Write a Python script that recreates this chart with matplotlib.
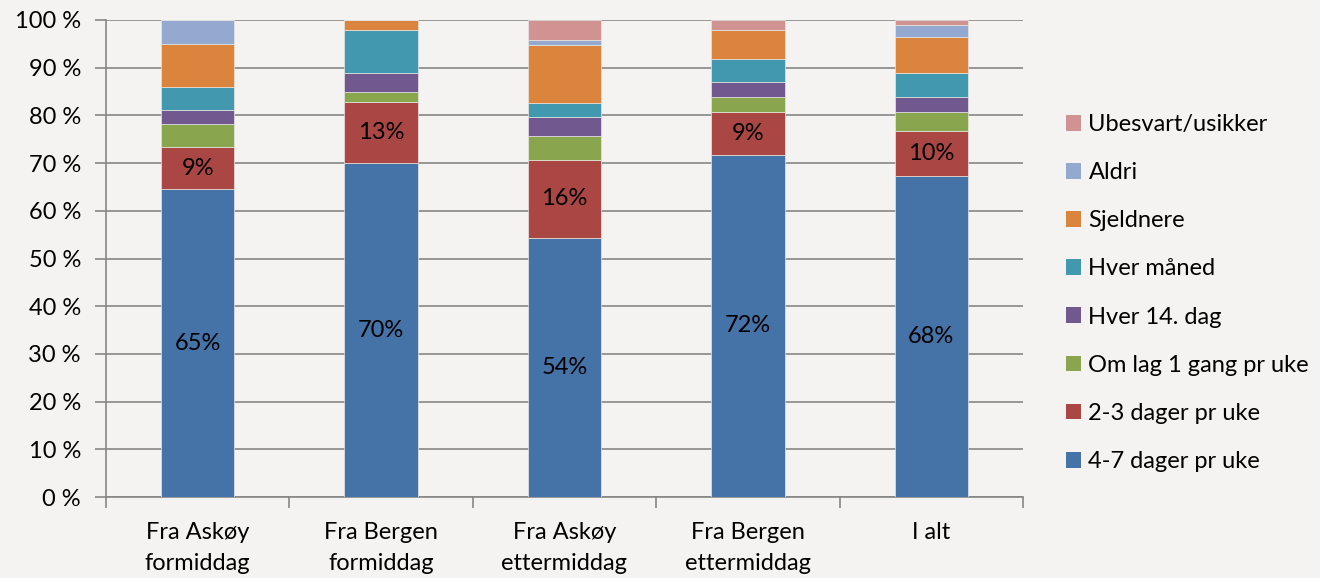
import numpy as np
import matplotlib.pyplot as plt
from matplotlib.patches import Patch

# Categories and series (percent of respondents)
categories = ['Fra Askøy\nformiddag', 'Fra Bergen\nformiddag', 'Fra Askøy\nettermiddag',
              'Fra Bergen\nettermiddag', 'I alt']
series_names = ['4-7 dager pr uke', '2-3 dager pr uke', 'Om lag 1 gang pr uke',
                'Hver 14. dag', 'Hver måned', 'Sjeldnere', 'Aldri', 'Ubesvart/usikker']

dager_4_7 = [64.5, 70.0, 54.4, 71.8, 67.2]
dager_2_3 = [8.8, 12.9, 16.2, 9.0, 9.5]
om_lag_1 = [4.9, 2.0, 5.0, 3.0, 4.1]
hver_14 = [2.9, 3.9, 4.1, 3.1, 3.0]
hver_maaned = [4.9, 9.0, 3.0, 4.9, 5.1]
sjeldnere = [8.9, 2.2, 12.1, 6.0, 7.5]
aldri = [5.1, 0.0, 1.1, 0.0, 2.5]
ubesvart = [0.0, 0.0, 4.1, 2.2, 1.1]

label_4_7 = ['65%', '70%', '54%', '72%', '68%']
label_2_3 = ['9%', '13%', '16%', '9%', '10%']

colors = ['#4572a7', '#aa4643', '#89a54e', '#71588f', '#4198af', '#db843d', '#93a9cf', '#d19392']
bg = '#f4f3f1'
grid_col = '#868686'
fs = 17

plt.rcParams['font.family'] = ['Lato', 'DejaVu Sans']

fig = plt.figure(figsize=(13.2, 5.78), dpi=100, facecolor=bg)
ax = fig.add_axes([106 / 1320, 1 - 497 / 578, (1023 - 106) / 1320, (497 - 20) / 578])
ax.set_facecolor(bg)

data = [dager_4_7, dager_2_3, om_lag_1, hver_14, hver_maaned, sjeldnere, aldri, ubesvart]
x = np.arange(len(categories))
bottom = np.zeros(len(categories))
for vals, col in zip(data, colors):
    vals = np.array(vals)
    ax.bar(x, vals, 0.4, bottom=bottom, color=col, edgecolor='#e8e6e3', linewidth=0.5, zorder=3)
    bottom += vals

# Segment labels
for i in range(len(categories)):
    ax.text(x[i], dager_4_7[i] / 2, label_4_7[i], ha='center', va='center', fontsize=fs, zorder=4)
    ax.text(x[i], dager_4_7[i] + dager_2_3[i] / 2, label_2_3[i], ha='center', va='center',
            fontsize=fs, zorder=4)

ax.set_xlim(-0.5, len(categories) - 0.5)
ax.set_ylim(0, 100)
ax.set_yticks(range(0, 101, 10))
ax.set_yticklabels([f'{v} %' for v in range(0, 101, 10)], fontsize=fs)
ax.yaxis.grid(True, color=grid_col, linewidth=1.2, zorder=0)

ax.set_xticks(x)
ax.set_xticklabels(categories, fontsize=fs, linespacing=1.6)
ax.set_xticks(np.arange(-0.5, len(categories)), minor=True)
ax.tick_params(axis='x', which='major', length=0, pad=18)
ax.tick_params(axis='x', which='minor', length=8, color=grid_col, width=1.2)
ax.tick_params(axis='y', length=8, color=grid_col, width=1.2, pad=10)

for side in ['top', 'right']:
    ax.spines[side].set_visible(False)
for side in ['left', 'bottom']:
    ax.spines[side].set_color(grid_col)
    ax.spines[side].set_linewidth(1.2)

handles = [Patch(facecolor=c, edgecolor='none') for c in colors]
leg = fig.legend(handles[::-1], series_names[::-1], loc='center left',
                 bbox_to_anchor=(1066 / 1320, 1 - 293 / 578), frameon=False, fontsize=fs,
                 handlelength=0.65, handleheight=0.65, handletextpad=0.3, labelspacing=1.15,
                 borderpad=0, borderaxespad=0)

fig.savefig('out.png', dpi=100, facecolor=bg)
